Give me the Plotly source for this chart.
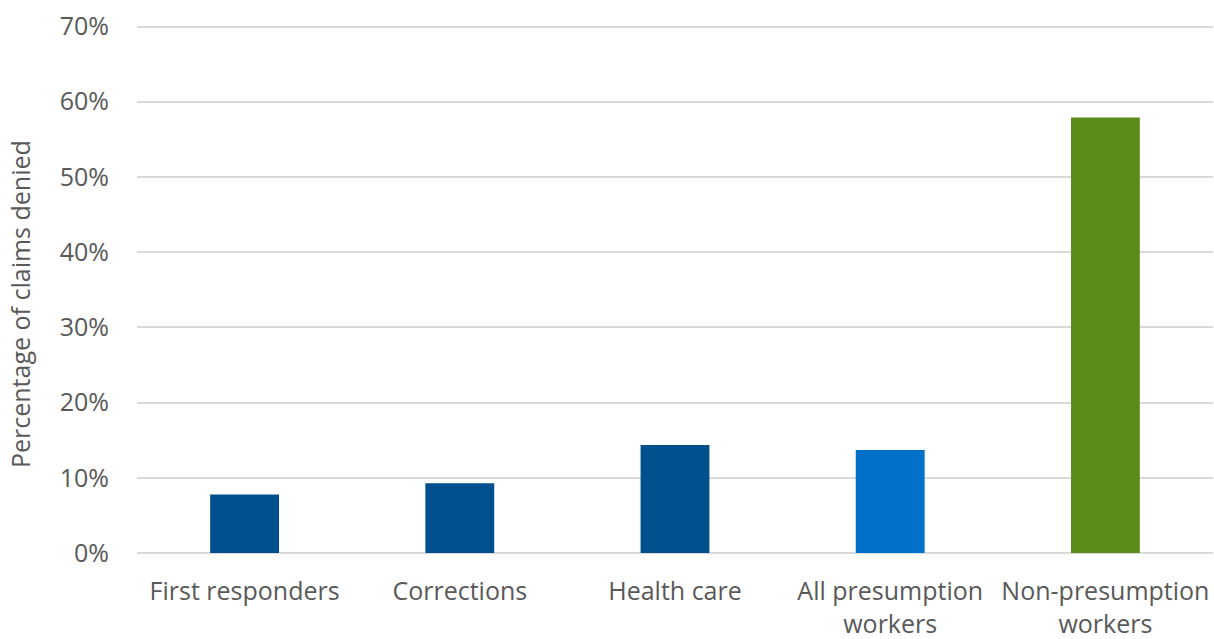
import plotly.graph_objects as go

categories = ["First responders", "Corrections", "Health care", "All presumption<br>workers", "Non-presumption<br>workers"]
values = [0.0778, 0.0928, 0.1435, 0.137, 0.579]
colors = ["#00508E", "#00508E", "#00508E", "#0070C8", "#5B8C1A"]
y_ticks = [0, 0.1, 0.2, 0.3, 0.4, 0.5, 0.6, 0.7]
y_ticklabels = ["0%", "10%", "20%", "30%", "40%", "50%", "60%", "70%"]
y_title = "Percentage of claims denied"

fig = go.Figure(go.Bar(x=categories, y=values, marker=dict(color=colors, line=dict(width=0)), width=0.32))

font_family = "Open Sans, DejaVu Sans, sans-serif"
fig.update_layout(
    width=1214, height=639,
    margin=dict(l=137, r=1, t=25, b=86, autoexpand=False),
    paper_bgcolor="white", plot_bgcolor="white",
    showlegend=False,
    font=dict(family=font_family, size=25, color="#595959"),
)
fig.update_xaxes(showgrid=False, showline=False, ticks="", ticklabelstandoff=21,
                 tickfont=dict(size=25, color="#595959"))
fig.update_yaxes(
    range=[0, 0.702], tickvals=y_ticks, ticktext=y_ticklabels,
    showgrid=True, gridcolor="#D9D9D9", gridwidth=1.5,
    zeroline=True, zerolinecolor="#D9D9D9", zerolinewidth=1.5,
    showline=False, ticks="", ticklen=0, ticklabelstandoff=27,
    tickfont=dict(size=25, color="#595959"),
)
fig.add_annotation(text=y_title, textangle=-90, xref="paper", yref="paper",
                   x=-0.1087, y=0.4716, xanchor="center", yanchor="middle",
                   showarrow=False, font=dict(size=25, color="#595959"))
fig.write_html("out.html", config={"displayModeBar": False},
               post_script="document.body.style.margin='0';document.body.style.overflow='hidden';")
